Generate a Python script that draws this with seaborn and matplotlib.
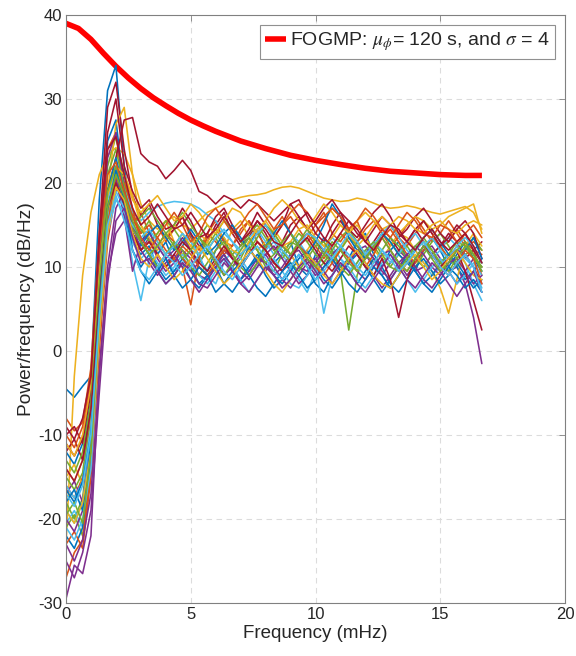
import numpy as np
import pandas as pd
import matplotlib
matplotlib.use("Agg")
import matplotlib.pyplot as plt
import seaborn as sns

# ---------------- data ----------------
freq = np.linspace(0, 50 / 3, 51)  # mHz, PSD frequency bins

fogm_freq = [0, 0.5, 1, 1.5, 2, 2.5, 3, 3.5, 4, 4.5, 5, 5.5, 6, 7, 8, 9, 10,
             11, 12, 13, 14, 15, 16, 16.67]
fogm_db = [39.0, 38.4, 37.1, 35.45, 33.9, 32.5, 31.25, 30.15, 29.2, 28.3, 27.5,
           26.8, 26.15, 25.0, 24.1, 23.3, 22.7, 22.2, 21.75, 21.4, 21.2, 21.0,
           20.9, 20.9]

s00 = [-4.5, -5.5, -4.2, -3, 18, 31, 34, 22, 15, 13, 14.5,
       11.5, 13, 10.5, 12.5, 14, 11, 9.5, 12, 13.5, 11,
       10, 12.5, 14.5, 12, 10.5, 11.5, 13, 10, 9, 11.5,
       13.5, 12, 10, 11, 13, 14, 11.5, 10, 12, 13,
       11, 9.5, 12, 13.5, 12, 10, 11.5, 13, 11, 9.5]
s01 = [-8, -9.5, -8.5, -2, 14, 24, 26, 18, 15, 16.5, 14,
       15, 13, 14.5, 16, 13.5, 12, 14, 15.5, 13, 12.5,
       14, 15.5, 13, 12, 14.5, 16, 14, 12.5, 13.5, 15,
       16.5, 14, 13, 14.5, 15.5, 13, 12, 14, 15, 13.5,
       12.5, 14, 15.5, 14, 12.5, 13, 14.5, 13, 12, 11.5]
s02 = [-23, -3, 9, 16.5, 21, 23.3, 24.2, 23.5, 21, 17.5, 15.5,
       14.5, 15.5, 16, 15, 14.5, 15.5, 16.5, 17, 17.5, 18,
       18.3, 18.5, 18.6, 18.8, 19.2, 19.5, 19.6, 19.4, 19, 18.6,
       18.2, 18.0, 17.8, 17.9, 18.2, 18.0, 17.6, 17.2, 17.0, 17.1,
       17.3, 17.1, 16.8, 16.5, 16.3, 16.6, 16.9, 17.2, 16.5, 14.5]
s03 = [-29.5, -25.5, -26.5, -22, -2, 9, 14, 15.5, 14.5, 13, 11.5,
       10, 11.5, 12.5, 11, 9.5, 10.5, 12, 11, 9, 10,
       11.5, 12.5, 10.5, 9.5, 11, 12.5, 11.5, 10, 9.5, 11,
       12, 10.5, 9, 10.5, 12, 11.5, 10, 9, 10.5, 12,
       11, 9.5, 10, 11.5, 10.5, 9.5, 10, 8, 4, -1.5]
s04 = [-18, -20, -17.5, -9, 10, 22, 25.5, 21, 16, 14, 15.5,
       13, 11.5, 12.5, 14, 12, 10.5, 12, 13.5, 11.5, 10,
       11, 13, 12, 10, 9.5, 11.5, 13, 12.5, 11, 9.5,
       10.5, 12, 9.5, 2.5, 9, 11.5, 12.5, 11, 10, 11.5,
       12.5, 11, 10, 11.5, 12.5, 11, 10, 11.5, 12, 10.5]
s05 = [-20.5, -19, -21, -14, 2, 15, 20, 16.5, 10.5, 6, 11,
       12.5, 11, 9.5, 10.5, 12, 11.5, 9, 8, 10.5, 12,
       11, 9.5, 10, 12, 13, 11.5, 10, 8.5, 7, 9.5,
       11.5, 12.5, 11, 9.5, 10.5, 12, 11, 9, 7.5, 9,
       11.5, 12, 10.5, 9, 10, 11.5, 12, 10.5, 8, 6]
s06 = [-11, -12.5, -10.5, -5, 14, 29, 32, 24, 18.5, 16, 17.5,
       15, 13.5, 14.5, 16, 14, 12.5, 13, 15, 16.5, 14,
       12.5, 13.5, 15.5, 14, 12, 13, 15, 16, 14.5, 13,
       12, 14, 15.5, 14, 12.5, 11.5, 13, 14.5, 13.5, 12,
       13, 14.5, 13, 11.5, 12.5, 14, 13, 11, 12, 13]
s07 = [-12, -13.5, -11, -6, 11, 25, 27.5, 19, 13, 11.5, 12.5,
       10, 8.5, 9.5, 11, 10, 8, 9, 10.5, 11.5, 9.5,
       8.5, 10, 11.5, 10.5, 9, 8, 9.5, 11, 12, 10,
       8.5, 7.5, 9, 10.5, 11.5, 10, 8.5, 7, 8.5, 10,
       11, 9.5, 8, 9, 10.5, 11.5, 10, 8.5, 9.5, 11]
s08 = [-16, -17.5, -15, -8, 8, 19, 22, 20, 16.5, 14, 15,
       13.5, 12, 11, 10, 5.5, 11, 14, 13, 11.5, 12.5,
       14.5, 15.5, 14, 12.5, 13.5, 15, 16, 14.5, 13, 14,
       15.5, 17, 16, 14, 13, 14.5, 15.5, 14, 12.5, 13.5,
       15, 16, 14.5, 13, 14, 15.5, 14, 12.5, 13, 12]
s09 = [-14, -15.5, -13, -7, 6, 19, 27, 29, 21, 15, 13,
       14, 15.5, 13, 11.5, 12.5, 14, 13, 11, 12, 14.5,
       15.5, 13.5, 12, 13, 14.5, 13, 11.5, 10, 12, 13.5,
       12.5, 11, 12, 14, 15, 13.5, 12, 11, 12.5, 14,
       13.5, 12, 10.5, 9.5, 7.5, 4.5, 8.5, 12.5, 14, 12.5]
s10 = [-17, -15.5, -18, -10, 10, 23, 26, 20, 14, 12, 13.5,
       11, 9.5, 10.5, 12, 11, 9, 8.5, 10, 11.5, 10,
       8.5, 9.5, 11, 10.5, 9, 10, 11.5, 12, 10.5, 9,
       10, 11.5, 12.5, 11, 9.5, 8.5, 10, 11.5, 12, 10.5,
       9, 10.5, 12, 12.5, 11, 9.5, 8, 9.5, 11, 10]
s11 = [-21, -19.5, -22, -13, 3, 16, 20, 19, 16, 14.5, 13,
       14, 15.5, 14.5, 13, 12, 13.5, 15, 14, 12.5, 11.5,
       12.5, 14, 15, 13.5, 12, 11, 12.5, 14, 13, 11.5,
       10.5, 12, 13.5, 14.5, 13, 11.5, 10.5, 12, 13.5, 12.5,
       11, 10, 11.5, 13, 14, 12.5, 11, 12, 13.5, 12]
s12 = [-19, -20.5, -18, -11, 6, 18, 22, 19.5, 16.5, 15.5, 16.5,
       17.2, 17.6, 17.8, 17.7, 17.5, 17.0, 16.2, 15.5, 14, 13,
       12, 13.5, 14.5, 13, 11.5, 12.5, 14, 13, 11.5, 10.5,
       12, 13.5, 12.5, 11, 10, 11.5, 13, 12, 10.5, 11.5,
       13, 14, 12.5, 11, 12, 13.5, 12.5, 11, 10, 7.5]
s13 = [-10, -9, -11, -4, 12, 26, 30, 22, 19, 17, 18,
       16, 14.5, 15, 17, 15.5, 13.5, 14, 16, 17, 15,
       13, 14.5, 16.5, 15, 13.5, 15, 17.5, 18, 16, 14,
       13, 15, 16.5, 15.5, 14, 13, 14.5, 16, 15, 13.5,
       14.5, 16, 17, 15.5, 14, 13, 14.5, 15.5, 14, 11]
s14 = [-22, -23.5, -21, -13, 4, 17, 21, 17, 12, 10, 11.5,
       9.5, 8, 9, 10.5, 8.5, 7.5, 9, 10, 8, 7,
       8.5, 10, 11, 9, 7.5, 8.5, 10, 11.5, 10, 8,
       7, 9, 10.5, 9.5, 8, 9.5, 11, 10, 8, 7,
       8.5, 10, 11, 9.5, 8, 9, 10.5, 9, 7.5, 8.5]
s15 = [-23, -21.5, -23.5, -15, 0, 13, 19, 20, 17, 13, 11.5,
       12.5, 14, 13, 11, 10, 11.5, 13.5, 14.5, 13, 11,
       10, 11.5, 13, 12, 10.5, 9.5, 11, 13, 14, 12.5,
       11, 12.5, 14, 13, 11.5, 10, 11.5, 13.5, 14.5, 13,
       11.5, 10.5, 12, 13.5, 12.5, 11, 12.5, 14, 12, 9]
s16 = [-15, -13.5, -16, -9, 5, 16, 20, 21, 18.5, 15, 13.5,
       12, 13.5, 15, 14, 12.5, 11.5, 13, 14.5, 13.5, 12,
       11.5, 13, 14.5, 15.5, 14, 12.5, 13, 14.5, 15, 13.5,
       12.5, 13.5, 15, 14, 12.5, 13.5, 15, 16, 15, 14,
       15, 16, 15.5, 14.5, 15, 16, 16.5, 17, 17.5, 14]
s17 = [-20, -21.5, -19, -12, 3, 15, 20.5, 16, 9.5, 13, 14,
       12.5, 11, 12, 13.5, 12, 10, 9, 10.5, 12, 11,
       9.5, 8.5, 10, 11.5, 12.5, 11, 9.5, 8, 9, 10.5,
       12, 11, 9.5, 10.5, 12, 12.5, 11, 9.5, 8.5, 10,
       11.5, 12.5, 11.5, 10, 9, 10.5, 12, 11.5, 10, 8]
s18 = [-15, -16.5, -14.5, -7, 9, 21, 24, 19.5, 15, 16, 17,
       15.5, 14, 15, 16.5, 15, 13.5, 12.5, 14, 15.5, 14.5,
       13, 12, 13.5, 15, 14, 12.5, 11.5, 13, 14.5, 13,
       11.5, 10.5, 12, 13.5, 12.5, 11, 12.5, 14, 13, 11.5,
       10.5, 12, 13, 12, 10.5, 11.5, 13, 12.5, 11, 10]
s19 = [-16, -17.5, -15.5, -9, 5, 16, 19, 17, 13, 11, 12,
       10.5, 9, 10, 11.5, 10.5, 9, 8, 9.5, 11, 10,
       8.5, 7, 8.5, 10, 11, 9.5, 8, 7.5, 9, 10.5,
       4.5, 9, 11, 10, 8.5, 7.5, 9, 10.5, 11.5, 10,
       8.5, 7, 8.5, 10, 11, 9.5, 8, 9, 10.5, 9]
s20 = [-12, -10.5, -13, -6, 8, 19, 23, 27.5, 27.8, 23.5, 22.5,
       22, 20.5, 21.5, 22.7, 21.5, 19, 18.5, 17.5, 18.5, 18,
       17, 18, 17.5, 16.5, 15.5, 16.5, 17.5, 16, 14.5, 15.5,
       17, 18, 16.5, 14.5, 13.5, 15, 16.5, 17.5, 16, 14,
       13, 14.5, 15.5, 14, 12.5, 13.5, 15, 14, 12, 10.5]
s21 = [-18, -16.5, -19, -11, 6, 19, 23, 19, 14, 12.5, 14,
       15, 13.5, 12, 13, 14.5, 13, 11.5, 12.5, 14, 15,
       13.5, 12, 11, 12.5, 14, 15.5, 14, 12.5, 11.5, 13,
       15, 17.5, 16, 13.5, 12, 11, 12.5, 14, 13, 11.5,
       10.5, 12, 13.5, 14.5, 13, 11.5, 10.5, 12, 13.5, 11]
s22 = [-27, -24, -22.5, -14, 2, 15, 21, 18, 14, 12, 13,
       11.5, 10, 11, 12.5, 11.5, 10, 9, 10.5, 12, 11.5,
       10, 11.5, 13, 12, 10.5, 9.5, 11, 12.5, 11.5, 10,
       9, 10.5, 12, 11, 9.5, 11, 12.5, 13.5, 12, 10.5,
       9.5, 11, 12.5, 11.5, 10, 9, 10.5, 12, 11, 8]
s23 = [-11, -12.5, -10, -4, 9, 18.5, 22, 21, 18, 16.5, 17.5,
       18.5, 17, 15.5, 16, 17.5, 16.5, 15, 14, 15.5, 17,
       16.5, 15, 14, 15.5, 17, 18, 17, 15.5, 14.5, 16,
       17.5, 16.5, 15, 14, 15.5, 16.5, 15.5, 14.5, 15, 16,
       15.5, 14.5, 14, 15, 15.5, 14.5, 14, 15, 15.5, 15]
s24 = [-23, -25, -22.5, -17, -3, 10, 17, 19, 15, 12, 10.5,
       9, 10.5, 11.5, 10, 8.5, 7, 8.5, 10, 11, 9.5,
       8, 9, 10.5, 11.5, 10, 8.5, 7.5, 9, 10.5, 11,
       9.5, 8, 9.5, 11, 12, 10.5, 9, 7.5, 9, 10.5,
       11.5, 10, 8.5, 7.5, 9, 10.5, 11, 9.5, 8, 9]
s25 = [-13, -14.5, -12, -6, 8, 19, 22, 18, 14.5, 13, 11.5,
       10, 11.5, 13, 12, 10, 9, 10.5, 12, 13, 11.5,
       10, 9, 10.5, 12.5, 13.5, 12, 10.5, 9.5, 11, 12.5,
       13, 11.5, 10, 9, 10.5, 12, 13, 11.5, 10, 9.5,
       11, 12.5, 13.5, 12, 10.5, 9.5, 11, 12.5, 11.5, 9.5]
s26 = [-21, -22.5, -20, -14, 2, 14, 18, 16.5, 15, 13.5, 14.5,
       13, 11.5, 12.5, 14, 13, 11.5, 12, 13.5, 14.5, 13,
       11.5, 12.5, 14, 15, 13.5, 12, 11, 12.5, 14, 13.5,
       12, 11, 12.5, 14, 13, 11.5, 12.5, 14, 15, 13.5,
       12, 11, 12.5, 13.5, 12, 11, 12.5, 13.5, 12.5, 10.5]
s27 = [-14, -15.5, -13, -7, 6, 17, 20, 17.5, 14, 12, 13,
       11.5, 10, 11.5, 13, 12, 10.5, 9.5, 11, 12.5, 11,
       10, 11.5, 13, 12, 10.5, 9.5, 11, 12.5, 13.5, 12,
       10.5, 9.5, 11, 12.5, 11.5, 10, 9, 11, 8.5, 4,
       8.5, 11, 12.5, 11.5, 10, 11, 12, 9.5, 6, 2.5]
s28 = [-16.5, -18, -15.5, -10, 5, 17, 21.5, 18, 12, 9.5, 8,
       9.5, 11, 9, 7.5, 8.5, 10, 9, 7, 8, 9.5,
       10.5, 9, 7.5, 6.5, 8, 9.5, 10.5, 9, 7.5, 8.5,
       10, 11, 9.5, 8, 7, 8.5, 10, 9, 7.5, 9,
       10.5, 9.5, 8, 7, 8.5, 10, 9, 7.5, 8.5, 7]
s29 = [-10, -11.5, -9, -3, 12, 21, 22.5, 19, 16, 13.5, 12,
       13.5, 15, 16.5, 15, 13, 14, 16, 17, 15.5, 14,
       15, 16.5, 17.5, 16, 14.5, 15, 16.5, 17.5, 16.5, 15,
       16, 17, 16, 14.5, 15.5, 17, 16, 14.5, 13.5, 15,
       16.5, 15.5, 14, 13.5, 15, 14.5, 13, 14, 15, 13.5]
s30 = [-19, -20.5, -18, -12, 2, 14, 19.5, 18, 14, 11, 10,
       11.5, 10, 8.5, 9.5, 11, 12.5, 11, 9.5, 8, 9,
       10.5, 12, 11, 9.5, 8, 7, 8.5, 10, 11.5, 10.5,
       9, 8, 9.5, 11, 12, 10.5, 9, 8, 7.5, 9,
       10.5, 11.5, 10, 8.5, 9.5, 11, 12, 10.5, 9, 8.5]
s31 = [-25, -27, -24, -19, -5, 8, 15.5, 17, 13.5, 10.5, 11,
       9.5, 8, 9, 10.5, 9.5, 8, 7.5, 9, 10.5, 9.5,
       8, 7, 8.5, 10, 9, 7.5, 8.5, 10, 11, 9.5,
       8, 9, 10.5, 9.5, 8, 7, 8.5, 10, 11.5, 10,
       8.5, 7.5, 9, 10.5, 9.5, 8, 6.5, 8, 9.5, 7]
s32 = [-19.5, -18, -20.5, -12, 4, 17, 21, 18.5, 15.5, 13, 11.5,
       12.5, 14, 12.5, 11, 12, 13.5, 12, 10.5, 9, 10.5,
       12, 13.5, 12, 10.5, 11.5, 13, 14, 12.5, 11, 10,
       11.5, 13, 12, 10.5, 9.5, 11, 12.5, 13.5, 12, 10.5,
       9.5, 11, 12.5, 11, 9.5, 10.5, 12, 13, 11.5, 10]
s33 = [-17, -18.5, -16, -10, 4, 15, 18.5, 15.5, 12, 9.5, 8.5,
       10, 11.5, 10.5, 9, 10, 11.5, 12.5, 11, 9.5, 8.5,
       10, 11.5, 12.5, 11, 9.5, 8.5, 10, 11.5, 10, 8.5,
       9.5, 11, 12.5, 11.5, 10, 9, 10.5, 12, 11, 9.5,
       10.5, 12, 13, 11.5, 10, 9, 10.5, 11.5, 10, 7]
s34 = [-9, -10.5, -8, -3, 13, 24, 25.5, 21, 17, 15, 16,
       17.5, 16, 14.5, 15, 16.5, 15, 13.5, 14.5, 16, 14.5,
       13, 14, 15.5, 14.5, 13, 12.5, 14, 15.5, 16.5, 15,
       13.5, 12.5, 14, 15.5, 14.5, 13, 12, 13.5, 15, 14.5,
       13, 12, 13.5, 14.5, 13, 12, 13, 14, 12.5, 10.5]

series = [s00, s01, s02, s03, s04, s05, s06, s07, s08, s09, s10, s11,
          s12, s13, s14, s15, s16, s17, s18, s19, s20, s21, s22, s23,
          s24, s25, s26, s27, s28, s29, s30, s31, s32, s33, s34]

matlab_colors = ["#0072BD", "#D95319", "#EDB120", "#7E2F8E",
                 "#77AC30", "#4DBEEE", "#A2142F"]

legend_label = r"FOGMP: $\mu_{\phi}$= 120 s, and $\sigma$ = 4"

# ---------------- plot ----------------
sns.set_theme(style="white")
plt.rcParams["font.family"] = ["Liberation Sans", "DejaVu Sans"]
plt.rcParams["mathtext.fontset"] = "stix"
plt.rcParams["axes.unicode_minus"] = False

rows = []
for k, vals in enumerate(series):
    for f, v in zip(freq, vals):
        rows.append((k, f, v))
df = pd.DataFrame(rows, columns=["run", "freq", "psd"])
palette = {k: matlab_colors[k % 7] for k in range(len(series))}

fig = plt.figure(figsize=(5.76, 6.56), dpi=100)
ax = fig.add_axes([66 / 576, 1 - 603 / 656, (565 - 66) / 576, (603 - 15) / 656])

sns.lineplot(x=fogm_freq, y=fogm_db, color="#FF0000", lw=4.0,
             solid_capstyle="butt", label=legend_label, ax=ax)
sns.lineplot(data=df, x="freq", y="psd", hue="run", palette=palette,
             estimator=None, sort=False, legend=False, lw=1.15, ax=ax)

ax.set_xlim(0, 20)
ax.set_ylim(-30, 40)
ax.set_xticks([0, 5, 10, 15, 20])
ax.set_yticks([-30, -20, -10, 0, 10, 20, 30, 40])
ax.set_xlabel("Frequency (mHz)", fontsize=13.5, color="#262626", labelpad=2)
ax.set_ylabel("Power/frequency (dB/Hz)", fontsize=13.8, color="#262626", labelpad=2)
ax.tick_params(direction="in", top=True, right=True, length=4, width=0.6,
               color="#808080", labelsize=12, labelcolor="#262626", pad=3)
ax.grid(True, ls=(0, (5, 4)), color="#dcdcdc", lw=0.8)
ax.set_axisbelow(True)
for sp in ax.spines.values():
    sp.set_color("#808080")
    sp.set_linewidth(0.8)

leg = ax.legend(loc="upper right", fontsize=14, frameon=True, fancybox=False,
                framealpha=1, edgecolor="#909090", handlelength=1.05,
                handletextpad=0.2, borderpad=0.3, borderaxespad=0.5)
leg.get_frame().set_linewidth(0.8)

fig.savefig("out.png", dpi=100)
